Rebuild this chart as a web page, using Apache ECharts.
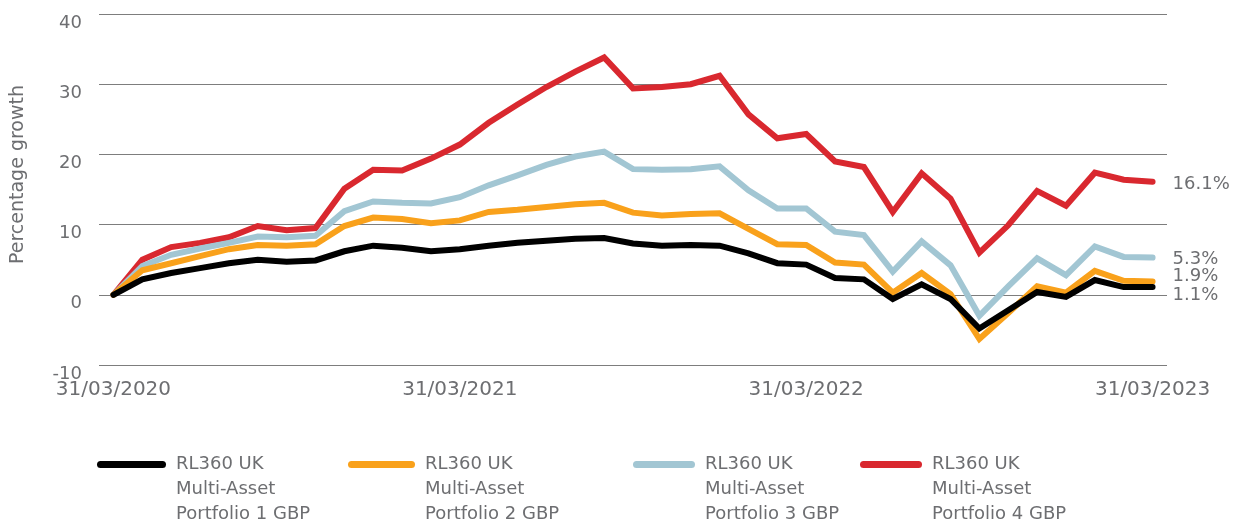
<!DOCTYPE html>
<html>
<head>
<meta charset="utf-8">
<script src="https://cdn.jsdelivr.net/npm/echarts@6/dist/echarts.min.js"></script>
<style>html,body{margin:0;padding:0;background:#fff;}#c{width:1236px;height:524px;}</style>
</head>
<body>
<div id="c"></div>
<script>
var categories = ["31/03/2020","30/04/2020","31/05/2020","30/06/2020","31/07/2020","31/08/2020","30/09/2020","31/10/2020","30/11/2020","31/12/2020","31/01/2021","28/02/2021","31/03/2021","30/04/2021","31/05/2021","30/06/2021","31/07/2021","31/08/2021","30/09/2021","31/10/2021","30/11/2021","31/12/2021","31/01/2022","28/02/2022","31/03/2022","30/04/2022","31/05/2022","30/06/2022","31/07/2022","31/08/2022","30/09/2022","31/10/2022","30/11/2022","31/12/2022","31/01/2023","28/02/2023","31/03/2023"];
var xTickLabels = ["31/03/2020","31/03/2021","31/03/2022","31/03/2023"];
var yTicks = [-10, 0, 10, 20, 30, 40];

var seriesNames = [
  "RL360 UK Multi-Asset Portfolio 1 GBP",
  "RL360 UK Multi-Asset Portfolio 2 GBP",
  "RL360 UK Multi-Asset Portfolio 3 GBP",
  "RL360 UK Multi-Asset Portfolio 4 GBP"
];
var portfolio1 = [0, 2.2, 3.1, 3.8, 4.5, 5.0, 4.7, 4.9, 6.2, 7.0, 6.7, 6.2, 6.5, 7.0, 7.4, 7.7, 8.0, 8.1, 7.3, 7.0, 7.1, 7.0, 5.9, 4.5, 4.3, 2.4, 2.2, -0.6, 1.5, -0.6, -4.8, -2.2, 0.4, -0.3, 2.1, 1.1, 1.1];
var portfolio2 = [0, 3.5, 4.5, 5.5, 6.5, 7.1, 7.0, 7.2, 9.8, 11.0, 10.8, 10.2, 10.6, 11.8, 12.1, 12.5, 12.9, 13.1, 11.7, 11.3, 11.5, 11.6, 9.4, 7.2, 7.1, 4.6, 4.3, 0.3, 3.1, 0.1, -6.3, -2.6, 1.2, 0.3, 3.4, 2.0, 1.9];
var portfolio3 = [0, 4.1, 5.7, 6.6, 7.4, 8.3, 8.2, 8.4, 11.9, 13.3, 13.1, 13.0, 13.9, 15.6, 17.0, 18.5, 19.7, 20.4, 17.9, 17.8, 17.9, 18.3, 14.9, 12.3, 12.3, 9.0, 8.5, 3.3, 7.6, 4.2, -3.0, 1.2, 5.2, 2.8, 6.9, 5.4, 5.3];
var portfolio4 = [0, 5.0, 6.8, 7.4, 8.2, 9.8, 9.2, 9.5, 15.1, 17.8, 17.7, 19.4, 21.4, 24.5, 27.1, 29.6, 31.8, 33.8, 29.4, 29.6, 30.0, 31.2, 25.7, 22.3, 22.9, 19.0, 18.2, 11.8, 17.3, 13.7, 6.0, 9.9, 14.8, 12.7, 17.4, 16.4, 16.1];

var colors = ["#000000", "#F9A11B", "#A2C6D3", "#D9282F"];
var values = [portfolio1, portfolio2, portfolio3, portfolio4];
var endOffsets = [[0, 8], [0, -5], [0, 2], [0, 3]];
var legendLeft = [97, 348, 633, 860];
var legendIconW = [69, 67, 62, 62];

var textColor = "#6d6e71";
var fontFam = "DejaVu Sans";

function pill(w, h) {
  var r = h / 2;
  return 'path://M' + r + ',0H' + (w - r) + 'A' + r + ',' + r + ',0,0,1,' + (w - r) + ',' + h + 'H' + r + 'A' + r + ',' + r + ',0,0,1,' + r + ',0Z';
}

var series = [];
for (var k = 3; k >= 0; k--) {
  series.push({
    name: seriesNames[k],
    type: 'line',
    data: values[k],
    symbol: 'none',
    color: colors[k],
    lineStyle: { width: 6, color: colors[k], cap: 'round', join: 'miter' },
    z: 10 - k,
    animation: false,
    endLabel: {
      show: true,
      distance: 20,
      offset: endOffsets[k],
      color: textColor,
      fontFamily: fontFam,
      fontSize: 18,
      formatter: function (p) { return p.value.toFixed(1) + '%'; }
    }
  });
}

var legends = [];
for (var j = 0; j < 4; j++) {
  legends.push({
    left: legendLeft[j],
    top: 402,
    padding: 0,
    itemWidth: legendIconW[j],
    itemHeight: 7,
    itemGap: 0,
    icon: pill(legendIconW[j], 7),
    selectedMode: false,
    data: [seriesNames[j]],
    formatter: function (name) {
      var l1 = 'RL360 UK', l2 = 'Multi-Asset', l3 = name.replace('RL360 UK Multi-Asset ', '');
      return '{b| }\n{b| }\n{a|' + l1 + '}\n{a|' + l2 + '}\n{a|' + l3 + '}';
    },
    textStyle: {
      color: textColor, fontFamily: fontFam, fontSize: 18, lineHeight: 25,
      rich: {
        a: { color: textColor, fontFamily: fontFam, fontSize: 18, lineHeight: 25, padding: [0, 0, 0, 5] },
        b: { fontSize: 18, lineHeight: 25 }
      }
    }
  });
}

var chart = echarts.init(document.getElementById('c'));
chart.setOption({
  animation: false,
  grid: { left: 99, right: 69, top: 14, bottom: 159 },
  legend: legends,
  xAxis: {
    type: 'category',
    data: categories,
    boundaryGap: true,
    axisLine: { show: false },
    axisTick: { show: false },
    axisLabel: {
      interval: function (i, v) { return xTickLabels.indexOf(v) >= 0; },
      color: textColor, fontFamily: fontFam, fontSize: 20, margin: 15
    }
  },
  yAxis: {
    type: 'value',
    min: yTicks[0],
    max: yTicks[yTicks.length - 1],
    interval: 10,
    name: 'Percentage growth',
    nameLocation: 'middle',
    nameRotate: 90,
    nameGap: 71,
    nameTextStyle: { color: textColor, fontFamily: fontFam, fontSize: 19, padding: [0, 0, 0, 30] },
    axisLine: { show: false },
    axisTick: { show: false },
    splitLine: { lineStyle: { color: '#7d7d7d', width: 1 } },
    axisLabel: { color: textColor, fontFamily: fontFam, fontSize: 18, margin: 17, verticalAlign: 'top' }
  },
  series: series
});
</script>
</body>
</html>
